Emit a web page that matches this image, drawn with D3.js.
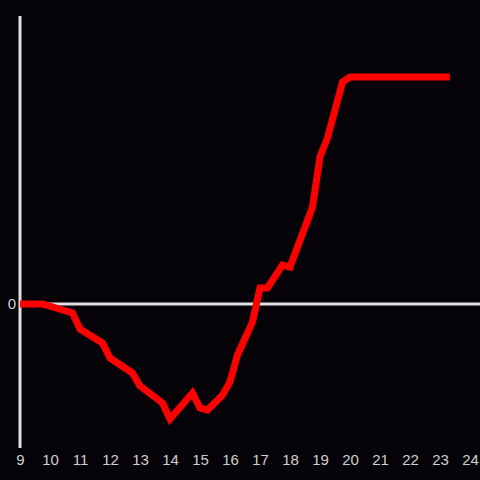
<!DOCTYPE html>
<html>
  <head>
    <meta charset="utf-8">
    <title>Line</title>
    <script src="https://d3js.org/d3.v7.min.js"></script>
    <style>
      html, body { margin: 0; padding: 0; background: #050307; }
      svg { display: block; }
      .tick text { fill: #d0d0d0; font-family: "Liberation Sans", Arial, sans-serif; font-size: 15px; }
    </style>
  </head>
  <body>
    <svg id="svg" width="480" height="480"></svg>
    <script>
      // data
      var hours = [9, 9.75, 10.75, 11, 11.75, 12, 12.75, 13, 13.75, 14, 14.75, 15, 15.25, 15.75,
                   16, 16.25, 16.75, 17, 17.25, 17.75, 18, 18.75, 19, 19.25, 19.75, 20, 23.33];
      var values = [0, 0, -0.9, -2.5, -3.9, -5.4, -6.9, -8.2, -9.9, -11.5, -8.9, -10.4, -10.6, -9.1,
                    -7.8, -5.1, -1.8, 1.6, 1.6, 3.9, 3.7, 9.7, 14.7, 16.6, 22.2, 22.7, 22.7];
      var xTicks = d3.range(9, 25);
      var yTicks = [0];

      var points = hours.map(function(h, i) { return [h, values[i]]; });

      var svg = d3.select("#svg");
      var x = d3.scaleLinear().domain([9, 24]).range([20, 470]);
      var y = d3.scaleLinear().domain([-14.4, 28.8]).range([448, 16]);

      // vertical axis line
      svg.append("line")
        .attr("x1", x(9)).attr("x2", x(9))
        .attr("y1", y(28.8)).attr("y2", y(-14.4))
        .attr("stroke", "#e0e0e0").attr("stroke-width", 3);

      // zero line
      svg.append("line")
        .attr("x1", x(9)).attr("x2", 480)
        .attr("y1", y(0)).attr("y2", y(0))
        .attr("stroke", "#e0e0e0").attr("stroke-width", 3);

      // x tick labels
      svg.append("g")
        .attr("transform", "translate(0, 448)")
        .call(d3.axisBottom(x).tickValues(xTicks).tickSize(0).tickPadding(6).tickFormat(d3.format("d")))
        .call(function(g) { g.select(".domain").remove(); });

      // y tick label
      svg.append("g")
        .attr("transform", "translate(18, 0)")
        .call(d3.axisLeft(y).tickValues(yTicks).tickSize(0).tickPadding(2))
        .call(function(g) { g.select(".domain").remove(); });

      // red line
      svg.append("path")
        .datum(points)
        .attr("fill", "none")
        .attr("stroke", "#ff0000")
        .attr("stroke-width", 7)
        .attr("d", d3.line().x(function(d) { return x(d[0]); }).y(function(d) { return y(d[1]); }));
    </script>
  </body>
</html>
